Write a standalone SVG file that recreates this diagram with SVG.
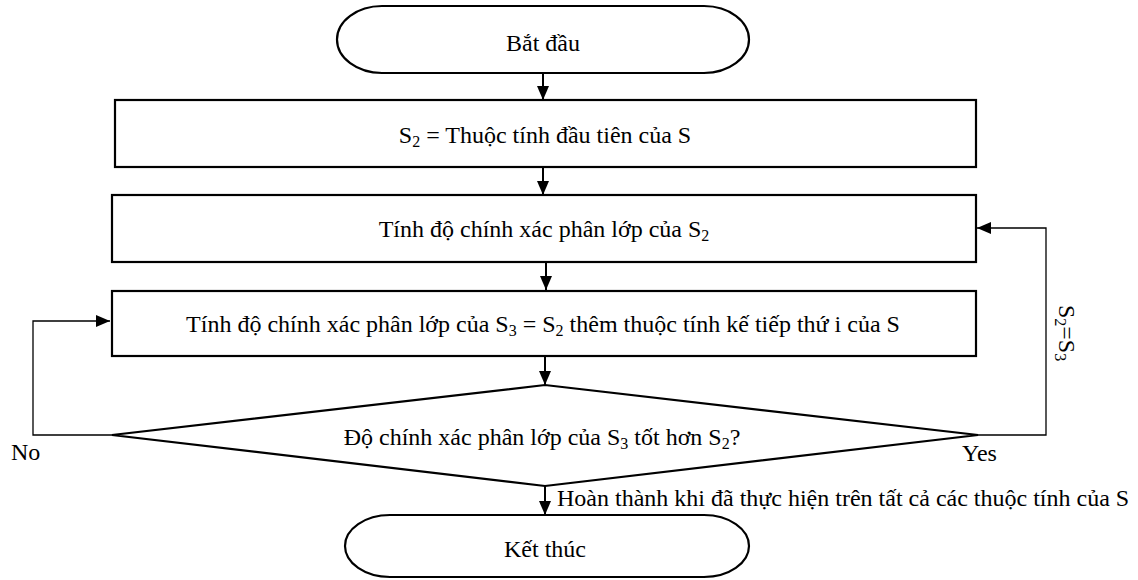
<svg xmlns="http://www.w3.org/2000/svg" width="1138" height="580" viewBox="0 0 1138 580">
<style>
text{font-family:"Liberation Serif","Times New Roman",serif;font-size:24px;fill:#000}
.shape{fill:#fff;stroke:#000;stroke-width:2.2}
.c{text-anchor:middle}
.flow{fill:none;stroke:#000;stroke-width:2}
.loop{fill:none;stroke:#000;stroke-width:1.3}
.sub{font-size:16px}
</style>
<defs>
<marker id="ah" markerUnits="userSpaceOnUse" markerWidth="14" markerHeight="14" viewBox="0 0 14 14" refX="14" refY="7" orient="auto">
<path d="M0,1 L14,7 L0,13 Z" fill="#000"/>
</marker>
</defs>
<rect width="1138" height="580" fill="#fff"/>
<g id="connectors">
<line class="flow" x1="543" y1="73" x2="543" y2="100" marker-end="url(#ah)"/>
<line class="flow" x1="543" y1="167" x2="543" y2="195" marker-end="url(#ah)"/>
<line class="flow" x1="546" y1="262" x2="546" y2="290" marker-end="url(#ah)"/>
<line class="flow" x1="545" y1="356" x2="545" y2="385" marker-end="url(#ah)"/>
<line class="flow" x1="545" y1="486" x2="545" y2="515" marker-end="url(#ah)"/>
<polyline class="loop" points="112,435 33,435 33,321 110,321" marker-end="url(#ah)"/>
<polyline class="loop" points="978,435 1046,435 1046,228 977,228" marker-end="url(#ah)"/>
<text x="11" y="460">No</text>
<text x="962" y="461">Yes</text>
<text transform="translate(1059,333) rotate(90)" class="c">S<tspan class="sub" dy="4">2</tspan><tspan dy="-4">=S</tspan><tspan class="sub" dy="4">3</tspan></text>
<text x="557" y="506">Hoàn thành khi đã thực hiện trên tất cả các thuộc tính của S</text>
</g>
<g id="start">
<rect class="shape" x="337" y="6" width="412" height="67" rx="45" ry="33.5"/>
<text class="c" x="543" y="51">Bắt đầu</text>
</g>
<g id="init">
<rect class="shape" x="115" y="100" width="861" height="67"/>
<text class="c" x="545" y="143">S<tspan class="sub" dy="4">2</tspan><tspan dy="-4"> = Thuộc tính đầu tiên của S</tspan></text>
</g>
<g id="eval">
<rect class="shape" x="112" y="195" width="864" height="67"/>
<text class="c" x="544" y="237">Tính độ chính xác phân lớp của S<tspan class="sub" dy="4">2</tspan></text>
</g>
<g id="eval3">
<rect class="shape" x="112" y="291" width="864" height="65"/>
<text class="c" x="543" y="332">Tính độ chính xác phân lớp của S<tspan class="sub" dy="4">3</tspan><tspan dy="-4"> = S</tspan><tspan class="sub" dy="4">2</tspan><tspan dy="-4"> thêm thuộc tính kế tiếp thứ i của S</tspan></text>
</g>
<g id="decision">
<polygon class="shape" points="112,435 545,385 978,435 545,486"/>
<text class="c" x="542" y="445">Độ chính xác phân lớp của S<tspan class="sub" dy="4">3</tspan><tspan dy="-4"> tốt hơn S</tspan><tspan class="sub" dy="4">2</tspan><tspan dy="-4">?</tspan></text>
</g>
<g id="end">
<rect class="shape" x="345" y="515" width="404" height="62" rx="45" ry="31"/>
<text class="c" x="545" y="557">Kết thúc</text>
</g>
</svg>
